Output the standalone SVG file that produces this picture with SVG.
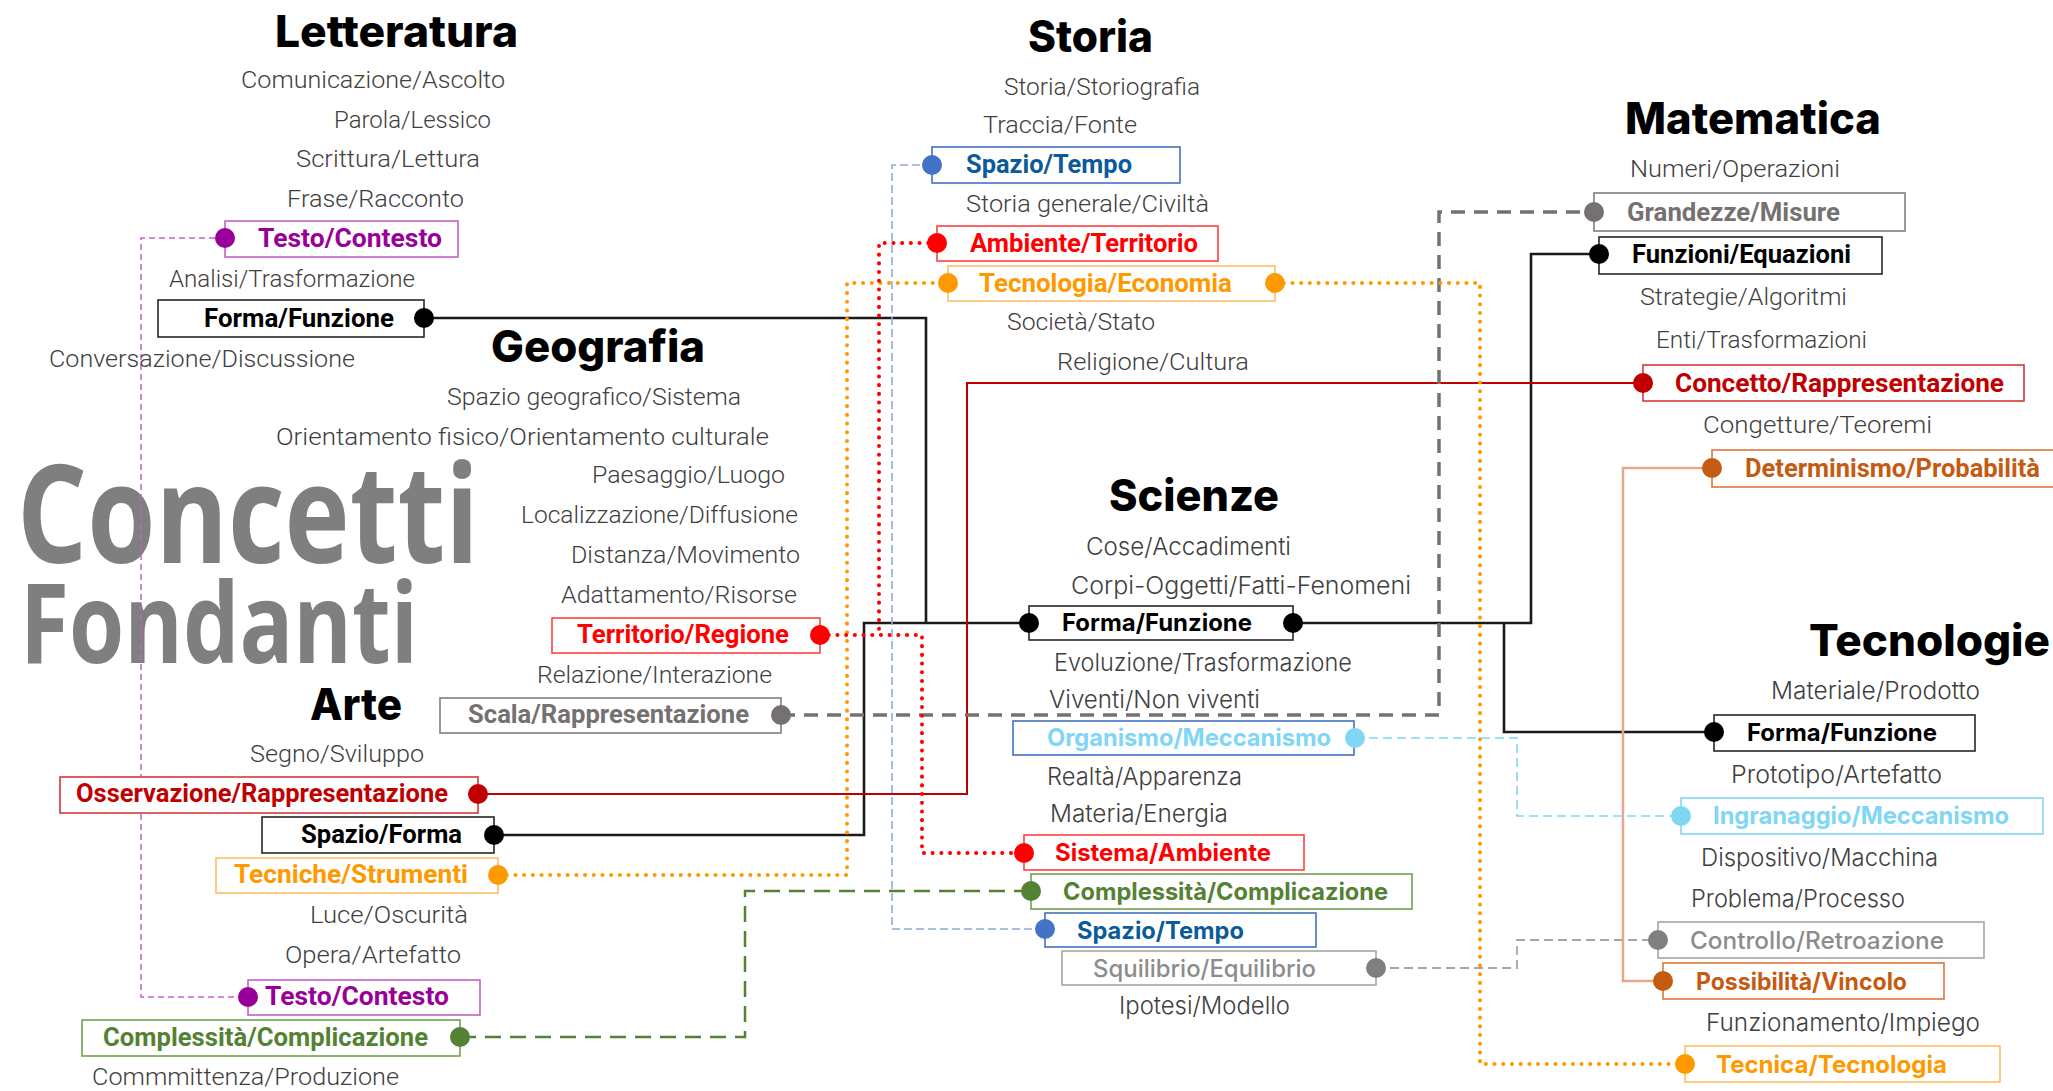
<svg xmlns="http://www.w3.org/2000/svg" width="2053" height="1091" viewBox="0 0 2053 1091">
<style>
.h{font-family:Inter,"Liberation Sans",sans-serif;font-weight:800;font-size:44px;fill:#000}
.t{font-family:Roboto,"Liberation Sans",sans-serif;font-weight:300;font-size:24px;fill:#404040}
.s{font-family:Inter,"Liberation Sans",sans-serif;font-weight:300;font-size:24px;fill:#404040}
.lb{font-family:Roboto,"Liberation Sans",sans-serif;font-weight:700;font-size:25px}
.ls{font-family:Inter,"Liberation Sans",sans-serif;font-weight:700;font-size:24px}
.lm{font-family:Inter,"Liberation Sans",sans-serif;font-weight:500;font-size:24px}
.big{font-family:"Open Sans","Liberation Sans",sans-serif;font-weight:700;fill:#7f7f7f}
.box{fill:#fff;stroke-width:1.6}
.c{fill:none}
.dot{stroke:none}
</style>
<text class="big" x="17" y="563" font-size="137" textLength="462" lengthAdjust="spacingAndGlyphs">Concetti</text>
<text class="big" x="20" y="663" font-size="112" textLength="398" lengthAdjust="spacingAndGlyphs">Fondanti</text>

<g id="connectors" class="c" stroke-linejoin="miter">
<path d="M225,238 H141 V997 H248" stroke="#c462c4" stroke-width="1.5" stroke-dasharray="6 4"/>
<path d="M424,318 H926 V623 M494,835 H864 V623 H1029 M1293,623 H1531 V254 H1599 M1504,623 V732 H1714" stroke="#1a1a1a" stroke-width="2.6"/>
<path d="M478,794 H967 V383 H1643" stroke="#c00000" stroke-width="2"/>
<path d="M781,715 H1439 V212 H1594" stroke="#767171" stroke-width="3.5" stroke-dasharray="14 9"/>
<path d="M498,875 H847 V283 H948 M1275,283 H1480 V1064 H1685" stroke="#ff9900" stroke-width="4" stroke-dasharray="0.1 8.6" stroke-linecap="round"/>
<path d="M937,243 H879 V635 M820,635 H922 V853 H1024" stroke="#ff0000" stroke-width="4" stroke-dasharray="0.1 8.6" stroke-linecap="round"/>
<path d="M932,165 H892 V929 H1045" stroke="#8eaadb" stroke-width="1.6" stroke-dasharray="8 4"/>
<path d="M460,1037 H745 V891 H1031" stroke="#548235" stroke-width="2.5" stroke-dasharray="16 9"/>
<path d="M1355,738 H1517 V816 H1681" stroke="#7fd6f5" stroke-width="1.6" stroke-dasharray="9 5"/>
<path d="M1376,968 H1517 V940 H1658" stroke="#a6a6a6" stroke-width="1.8" stroke-dasharray="9 5"/>
<path d="M1712,468 H1623 V981 H1663" stroke="#e4a98a" stroke-width="2.5"/>
</g>

<g id="letteratura">
<text class="h" x="275" y="47" textLength="243" lengthAdjust="spacingAndGlyphs">Letteratura</text>
<text class="t" x="241" y="88" textLength="264" lengthAdjust="spacingAndGlyphs">Comunicazione/Ascolto</text>
<text class="t" x="334" y="128" textLength="157" lengthAdjust="spacingAndGlyphs">Parola/Lessico</text>
<text class="t" x="296" y="167" textLength="184" lengthAdjust="spacingAndGlyphs">Scrittura/Lettura</text>
<text class="t" x="287" y="207" textLength="177" lengthAdjust="spacingAndGlyphs">Frase/Racconto</text>
<text class="t" x="169" y="287" textLength="246" lengthAdjust="spacingAndGlyphs">Analisi/Trasformazione</text>
<text class="t" x="49" y="367" textLength="306" lengthAdjust="spacingAndGlyphs">Conversazione/Discussione</text>
</g>
<g id="let-testo"><rect class="box" x="225" y="221" width="233" height="36" stroke="#c462c4"/><text class="lb" x="258" y="247" fill="#990099" textLength="184" lengthAdjust="spacingAndGlyphs">Testo/Contesto</text><circle class="dot" cx="225" cy="238" r="10" fill="#990099"/></g>
<g id="let-forma"><rect class="box" x="158" y="300" width="266" height="37" stroke="#262626"/><text class="lb" x="204" y="327" fill="#000" textLength="190" lengthAdjust="spacingAndGlyphs">Forma/Funzione</text><circle class="dot" cx="424" cy="318" r="10" fill="#000"/></g>

<g id="storia">
<text class="h" x="1028" y="52" textLength="125" lengthAdjust="spacingAndGlyphs">Storia</text>
<text class="t" x="1004" y="95" textLength="196" lengthAdjust="spacingAndGlyphs">Storia/Storiografia</text>
<text class="t" x="983" y="133" textLength="154" lengthAdjust="spacingAndGlyphs">Traccia/Fonte</text>
<text class="t" x="966" y="212" textLength="243" lengthAdjust="spacingAndGlyphs">Storia generale/Civiltà</text>
<text class="t" x="1007" y="330" textLength="148" lengthAdjust="spacingAndGlyphs">Società/Stato</text>
<text class="t" x="1057" y="370" textLength="192" lengthAdjust="spacingAndGlyphs">Religione/Cultura</text>
</g>
<g id="sto-spazio"><rect class="box" x="932" y="147" width="248" height="36" stroke="#4472c4"/><text class="lb" x="966" y="173" fill="#0b5b98" textLength="166" lengthAdjust="spacingAndGlyphs">Spazio/Tempo</text><circle class="dot" cx="932" cy="165" r="10" fill="#4472c4"/></g>
<g id="sto-ambiente"><rect class="box" x="937" y="226" width="281" height="35" stroke="#ff4040"/><text class="lb" x="970" y="252" fill="#ff0000" textLength="228" lengthAdjust="spacingAndGlyphs">Ambiente/Territorio</text><circle class="dot" cx="937" cy="243" r="10" fill="#ff0000"/></g>
<g id="sto-tecnologia"><rect class="box" x="948" y="266" width="327" height="35" stroke="#ffbf66"/><text class="lb" x="979" y="292" fill="#ff9900" textLength="253" lengthAdjust="spacingAndGlyphs">Tecnologia/Economia</text><circle class="dot" cx="948" cy="283" r="10" fill="#ff9900"/><circle class="dot" cx="1275" cy="283" r="10" fill="#ff9900"/></g>

<g id="matematica">
<text class="h" x="1625" y="134" textLength="256" lengthAdjust="spacingAndGlyphs">Matematica</text>
<text class="t" x="1630" y="177" textLength="210" lengthAdjust="spacingAndGlyphs">Numeri/Operazioni</text>
<text class="t" x="1640" y="305" textLength="207" lengthAdjust="spacingAndGlyphs">Strategie/Algoritmi</text>
<text class="t" x="1656" y="348" textLength="211" lengthAdjust="spacingAndGlyphs">Enti/Trasformazioni</text>
<text class="t" x="1703" y="433" textLength="229" lengthAdjust="spacingAndGlyphs">Congetture/Teoremi</text>
</g>
<g id="mat-grandezze"><rect class="box" x="1594" y="193" width="311" height="38" stroke="#7f7f7f"/><text class="lb" x="1627" y="221" fill="#767171" textLength="213" lengthAdjust="spacingAndGlyphs">Grandezze/Misure</text><circle class="dot" cx="1594" cy="212" r="10" fill="#767171"/></g>
<g id="mat-funzioni"><rect class="box" x="1599" y="237" width="283" height="37" stroke="#262626"/><text class="lb" x="1632" y="263" fill="#000" textLength="219" lengthAdjust="spacingAndGlyphs">Funzioni/Equazioni</text><circle class="dot" cx="1599" cy="254" r="10" fill="#000"/></g>
<g id="mat-concetto"><rect class="box" x="1643" y="365" width="381" height="36" stroke="#d23a3a"/><text class="lb" x="1675" y="392" fill="#c00000" textLength="329" lengthAdjust="spacingAndGlyphs">Concetto/Rappresentazione</text><circle class="dot" cx="1643" cy="383" r="10" fill="#c00000"/></g>
<g id="mat-determinismo"><rect class="box" x="1712" y="450" width="345" height="37" stroke="#d9773a"/><text class="lb" x="1745" y="477" fill="#c55a11" textLength="295" lengthAdjust="spacingAndGlyphs">Determinismo/Probabilità</text><circle class="dot" cx="1712" cy="468" r="10" fill="#c55a11"/></g>

<g id="geografia">
<text class="h" x="491" y="362" textLength="214" lengthAdjust="spacingAndGlyphs">Geografia</text>
<text class="t" x="447" y="405" textLength="294" lengthAdjust="spacingAndGlyphs">Spazio geografico/Sistema</text>
<text class="t" x="276" y="445" textLength="493" lengthAdjust="spacingAndGlyphs">Orientamento fisico/Orientamento culturale</text>
<text class="t" x="592" y="483" textLength="193" lengthAdjust="spacingAndGlyphs">Paesaggio/Luogo</text>
<text class="t" x="521" y="523" textLength="277" lengthAdjust="spacingAndGlyphs">Localizzazione/Diffusione</text>
<text class="t" x="571" y="563" textLength="229" lengthAdjust="spacingAndGlyphs">Distanza/Movimento</text>
<text class="t" x="561" y="603" textLength="236" lengthAdjust="spacingAndGlyphs">Adattamento/Risorse</text>
<text class="t" x="537" y="683" textLength="235" lengthAdjust="spacingAndGlyphs">Relazione/Interazione</text>
</g>
<g id="geo-territorio"><rect class="box" x="552" y="618" width="268" height="35" stroke="#ff4040"/><text class="lb" x="577" y="643" fill="#ff0000" textLength="212" lengthAdjust="spacingAndGlyphs">Territorio/Regione</text><circle class="dot" cx="820" cy="635" r="10" fill="#ff0000"/></g>
<g id="geo-scala"><rect class="box" x="440" y="698" width="341" height="35" stroke="#7f7f7f"/><text class="lb" x="468" y="723" fill="#767171" textLength="281" lengthAdjust="spacingAndGlyphs">Scala/Rappresentazione</text><circle class="dot" cx="781" cy="715" r="10" fill="#767171"/></g>

<g id="arte">
<text class="h" x="310" y="720" textLength="92" lengthAdjust="spacingAndGlyphs">Arte</text>
<text class="t" x="250" y="762" textLength="174" lengthAdjust="spacingAndGlyphs">Segno/Sviluppo</text>
<text class="t" x="310" y="923" textLength="158" lengthAdjust="spacingAndGlyphs">Luce/Oscurità</text>
<text class="t" x="285" y="963" textLength="176" lengthAdjust="spacingAndGlyphs">Opera/Artefatto</text>
<text class="t" x="92" y="1085" textLength="307" lengthAdjust="spacingAndGlyphs">Commmittenza/Produzione</text>
</g>
<g id="art-osservazione"><rect class="box" x="60" y="777" width="418" height="36" stroke="#d23a3a"/><text class="lb" x="76" y="802" fill="#c00000" textLength="372" lengthAdjust="spacingAndGlyphs">Osservazione/Rappresentazione</text><circle class="dot" cx="478" cy="794" r="10" fill="#c00000"/></g>
<g id="art-spazio"><rect class="box" x="262" y="817" width="232" height="36" stroke="#262626"/><text class="lb" x="301" y="843" fill="#000" textLength="161" lengthAdjust="spacingAndGlyphs">Spazio/Forma</text><circle class="dot" cx="494" cy="835" r="10" fill="#000"/></g>
<g id="art-tecniche"><rect class="box" x="216" y="858" width="282" height="35" stroke="#ffbf66"/><text class="lb" x="234" y="883" fill="#ff9900" textLength="234" lengthAdjust="spacingAndGlyphs">Tecniche/Strumenti</text><circle class="dot" cx="498" cy="875" r="10" fill="#ff9900"/></g>
<g id="art-testo"><rect class="box" x="248" y="980" width="232" height="35" stroke="#c462c4"/><text class="lb" x="265" y="1005" fill="#990099" textLength="184" lengthAdjust="spacingAndGlyphs">Testo/Contesto</text><circle class="dot" cx="248" cy="997" r="10" fill="#990099"/></g>
<g id="art-complessita"><rect class="box" x="82" y="1020" width="378" height="36" stroke="#70a050"/><text class="lb" x="103" y="1046" fill="#548235" textLength="325" lengthAdjust="spacingAndGlyphs">Complessità/Complicazione</text><circle class="dot" cx="460" cy="1037" r="10" fill="#548235"/></g>

<g id="scienze">
<text class="h" x="1109" y="511" textLength="170" lengthAdjust="spacingAndGlyphs">Scienze</text>
<text class="s" x="1086" y="555" textLength="205" lengthAdjust="spacingAndGlyphs">Cose/Accadimenti</text>
<text class="s" x="1071" y="594" textLength="340" lengthAdjust="spacingAndGlyphs">Corpi-Oggetti/Fatti-Fenomeni</text>
<text class="s" x="1054" y="671" textLength="298" lengthAdjust="spacingAndGlyphs">Evoluzione/Trasformazione</text>
<text class="s" x="1049" y="708" textLength="211" lengthAdjust="spacingAndGlyphs">Viventi/Non viventi</text>
<text class="s" x="1047" y="785" textLength="195" lengthAdjust="spacingAndGlyphs">Realtà/Apparenza</text>
<text class="s" x="1050" y="822" textLength="178" lengthAdjust="spacingAndGlyphs">Materia/Energia</text>
<text class="s" x="1119" y="1014" textLength="171" lengthAdjust="spacingAndGlyphs">Ipotesi/Modello</text>
</g>
<g id="sci-forma"><rect class="box" x="1029" y="606" width="264" height="34" stroke="#262626"/><text class="ls" x="1062" y="631" fill="#000" textLength="190" lengthAdjust="spacingAndGlyphs">Forma/Funzione</text><circle class="dot" cx="1029" cy="623" r="10" fill="#000"/><circle class="dot" cx="1293" cy="623" r="10" fill="#000"/></g>
<g id="sci-organismo"><rect class="box" x="1013" y="721" width="341" height="34" stroke="#4472c4"/><text class="ls" x="1047" y="746" fill="#7fd6f5" textLength="284" lengthAdjust="spacingAndGlyphs">Organismo/Meccanismo</text><circle class="dot" cx="1355" cy="738" r="10" fill="#7fd6f5"/></g>
<g id="sci-sistema"><rect class="box" x="1024" y="835" width="280" height="35" stroke="#ff4040"/><text class="ls" x="1055" y="861" fill="#ff0000" textLength="216" lengthAdjust="spacingAndGlyphs">Sistema/Ambiente</text><circle class="dot" cx="1024" cy="853" r="10" fill="#ff0000"/></g>
<g id="sci-complessita"><rect class="box" x="1031" y="874" width="381" height="35" stroke="#70a050"/><text class="ls" x="1063" y="900" fill="#548235" textLength="325" lengthAdjust="spacingAndGlyphs">Complessità/Complicazione</text><circle class="dot" cx="1031" cy="891" r="10" fill="#548235"/></g>
<g id="sci-spazio"><rect class="box" x="1045" y="913" width="271" height="34" stroke="#4472c4"/><text class="ls" x="1077" y="939" fill="#0b5b98" textLength="167" lengthAdjust="spacingAndGlyphs">Spazio/Tempo</text><circle class="dot" cx="1045" cy="929" r="10" fill="#4472c4"/></g>
<g id="sci-squilibrio"><rect class="box" x="1062" y="951" width="314" height="34" stroke="#a6a6a6"/><text class="lm" x="1093" y="977" fill="#8c8c8c" textLength="223" lengthAdjust="spacingAndGlyphs">Squilibrio/Equilibrio</text><circle class="dot" cx="1376" cy="968" r="10" fill="#808080"/></g>

<g id="tecnologie">
<text class="h" x="1809" y="656" textLength="241" lengthAdjust="spacingAndGlyphs">Tecnologie</text>
<text class="s" x="1771" y="699" textLength="209" lengthAdjust="spacingAndGlyphs">Materiale/Prodotto</text>
<text class="s" x="1731" y="783" textLength="211" lengthAdjust="spacingAndGlyphs">Prototipo/Artefatto</text>
<text class="s" x="1701" y="866" textLength="237" lengthAdjust="spacingAndGlyphs">Dispositivo/Macchina</text>
<text class="s" x="1691" y="907" textLength="214" lengthAdjust="spacingAndGlyphs">Problema/Processo</text>
<text class="s" x="1706" y="1031" textLength="274" lengthAdjust="spacingAndGlyphs">Funzionamento/Impiego</text>
</g>
<g id="tec-forma"><rect class="box" x="1714" y="715" width="261" height="36" stroke="#262626"/><text class="ls" x="1747" y="741" fill="#000" textLength="190" lengthAdjust="spacingAndGlyphs">Forma/Funzione</text><circle class="dot" cx="1714" cy="732" r="10" fill="#000"/></g>
<g id="tec-ingranaggio"><rect class="box" x="1681" y="798" width="362" height="36" stroke="#7fd6f5"/><text class="ls" x="1713" y="824" fill="#7fd6f5" textLength="296" lengthAdjust="spacingAndGlyphs">Ingranaggio/Meccanismo</text><circle class="dot" cx="1681" cy="816" r="10" fill="#7fd6f5"/></g>
<g id="tec-controllo"><rect class="box" x="1658" y="922" width="326" height="36" stroke="#a6a6a6"/><text class="lm" x="1690" y="949" fill="#8c8c8c" textLength="254" lengthAdjust="spacingAndGlyphs">Controllo/Retroazione</text><circle class="dot" cx="1658" cy="940" r="10" fill="#808080"/></g>
<g id="tec-possibilita"><rect class="box" x="1663" y="963" width="281" height="36" stroke="#d9773a"/><text class="ls" x="1696" y="990" fill="#c55a11" textLength="211" lengthAdjust="spacingAndGlyphs">Possibilità/Vincolo</text><circle class="dot" cx="1663" cy="981" r="10" fill="#c55a11"/></g>
<g id="tec-tecnica"><rect class="box" x="1685" y="1046" width="315" height="36" stroke="#ffbf66"/><text class="ls" x="1716" y="1073" fill="#ff9900" textLength="231" lengthAdjust="spacingAndGlyphs">Tecnica/Tecnologia</text><circle class="dot" cx="1685" cy="1064" r="10" fill="#ff9900"/></g>
</svg>
